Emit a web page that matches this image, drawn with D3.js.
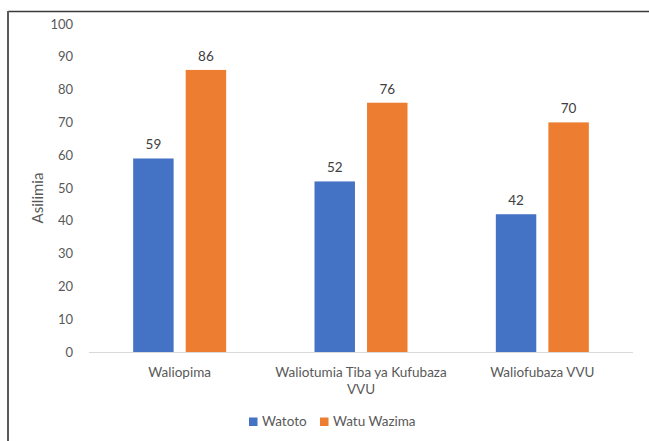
<!DOCTYPE html>
<html>
<head>
<meta charset="utf-8">
<script src="https://cdn.jsdelivr.net/npm/d3@7"></script>
<style>
  html, body { margin: 0; padding: 0; background: #fff; }
  svg { display: block; }
  text { font-family: Lato, "Open Sans", sans-serif; }
</style>
</head>
<body>
<svg id="chart" width="649" height="441"></svg>
<script>
// Categories and series
const categories = ["Waliopima", "Waliotumia Tiba ya Kufubaza VVU", "Waliofubaza VVU"];
const categoryLines = [["Waliopima"], ["Waliotumia Tiba ya Kufubaza", "VVU"], ["Waliofubaza VVU"]];
const seriesNames = ["Watoto", "Watu Wazima"];
const watoto = [59, 52, 42];
const watuWazima = [86, 76, 70];
const yTicks = [0, 10, 20, 30, 40, 50, 60, 70, 80, 90, 100];
const colors = ["#4472C4", "#ED7D31"];

const svg = d3.select("#chart");

// Frame around the chart area
svg.append("line").attr("x1", 8).attr("x2", 649).attr("y1", 11.5).attr("y2", 11.5)
  .attr("stroke", "#3a3a3a").attr("stroke-width", 1.5);
svg.append("line").attr("x1", 8).attr("x2", 8).attr("y1", 11).attr("y2", 441)
  .attr("stroke", "#5a5a5a").attr("stroke-width", 2);

const x0 = d3.scaleBand().domain(categories).range([89, 633]).paddingInner(0).paddingOuter(0);
const x1 = d3.scaleBand().domain(seriesNames).range([0, 93]).paddingInner(0.23);
const y = d3.scaleLinear().domain([0, 100]).range([352, 24]);

// Y axis tick labels (no axis line, no ticks)
const yAxis = svg.append("g").attr("transform", "translate(73,0)")
  .call(d3.axisLeft(y).tickValues(yTicks).tickSize(0).tickPadding(0));
yAxis.select(".domain").remove();
yAxis.selectAll("text").attr("fill", "#595959").style("font-size", "13px")
  .style("font-family", "Lato, 'Open Sans', sans-serif");

// Y axis title
svg.append("text")
  .attr("transform", "translate(43,198) rotate(-90)")
  .attr("text-anchor", "middle")
  .attr("fill", "#595959").style("font-size", "15px")
  .text("Asilimia");

// Bars
const data = categories.map((c, i) => ({ cat: c, vals: [watoto[i], watuWazima[i]] }));
const groups = svg.append("g").selectAll("g").data(data).join("g")
  .attr("transform", d => `translate(${x0(d.cat) + (x0.bandwidth() - 93) / 2},0)`);

groups.selectAll("rect").data(d => d.vals.map((v, k) => ({ k, v }))).join("rect")
  .attr("x", d => x1(seriesNames[d.k]))
  .attr("width", x1.bandwidth())
  .attr("y", d => y(d.v))
  .attr("height", d => y(0) - y(d.v))
  .attr("fill", d => colors[d.k]);

groups.selectAll("text.val").data(d => d.vals.map((v, k) => ({ k, v }))).join("text")
  .attr("class", "val")
  .attr("x", d => x1(seriesNames[d.k]) + x1.bandwidth() / 2)
  .attr("y", d => y(d.v) - 9)
  .attr("text-anchor", "middle")
  .attr("fill", "#404040").style("font-size", "13.5px")
  .text(d => d.v);

// X axis baseline
svg.append("line").attr("x1", 89).attr("x2", 633).attr("y1", y(0) + 0.5).attr("y2", y(0) + 0.5)
  .attr("stroke", "#D9D9D9").attr("stroke-width", 1);

// Category labels
categories.forEach((c, i) => {
  const t = svg.append("text")
    .attr("x", x0(c) + x0.bandwidth() / 2)
    .attr("y", 377)
    .attr("text-anchor", "middle")
    .attr("fill", "#595959").style("font-size", "13.5px");
  categoryLines[i].forEach((line, j) => {
    t.append("tspan").attr("x", x0(c) + x0.bandwidth() / 2).attr("dy", j === 0 ? 0 : 17).text(line);
  });
});

// Legend
const legendItems = [{ name: seriesNames[0], sx: 249, tx: 262 }, { name: seriesNames[1], sx: 320, tx: 333 }];
legendItems.forEach((d, i) => {
  svg.append("rect").attr("x", d.sx).attr("y", 417.5).attr("width", 8.5).attr("height", 8.5).attr("fill", colors[i]);
  svg.append("text").attr("x", d.tx).attr("y", 426).attr("fill", "#595959")
    .style("font-size", "13.5px").text(d.name);
});
</script>
</body>
</html>
